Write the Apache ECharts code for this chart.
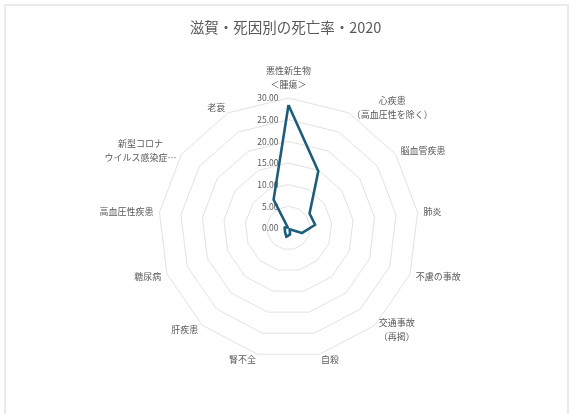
<!DOCTYPE html>
<html>
<head>
<meta charset="utf-8">
<script src="https://cdn.jsdelivr.net/npm/echarts@6/dist/echarts.min.js"></script>
<style>
html,body{margin:0;padding:0;background:#fff;}
#chart{width:571px;height:414px;}
</style>
</head>
<body>
<div id="chart"></div>
<script>
// Categories in clockwise order starting from the top
var categories = [
  '悪性新生物\n＜腫瘍＞',
  '心疾患\n（高血圧性を除く）',
  '脳血管疾患',
  '肺炎',
  '不慮の事故',
  '交通事故\n（再掲）',
  '自殺',
  '腎不全',
  '肝疾患',
  '糖尿病',
  '高血圧性疾患',
  '新型コロナ\nウイルス感染症…',
  '老衰'
];
var values = [28.4, 14.8, 5.9, 6.2, 3.3, 0.4, 1.5, 2.1, 1.2, 0.9, 0.9, 0.2, 7.4];
var axisMax = 30;
var axisSplit = 6;
var titleText = '滋賀・死因別の死亡率・2020';

// ECharts radar runs counter-clockwise; reorder so the picture runs clockwise
function clockwise(arr) { return [arr[0]].concat(arr.slice(1).reverse()); }
var cwCats = clockwise(categories);
var cwVals = clockwise(values);

var FONT = '"Noto Sans CJK JP", "Noto Sans", sans-serif';
var indicators = cwCats.map(function (c, i) {
  var ind = { name: c, max: axisMax, min: 0 };
  if (i === 0) {
    ind.axisLabel = { show: true };
  }
  return ind;
});

var chart = echarts.init(document.getElementById('chart'), null, { renderer: 'canvas' });
chart.setOption({
  animation: false,
  backgroundColor: '#ffffff',
  graphic: [{
    type: 'rect',
    shape: { x: 5, y: 5, width: 563, height: 430 },
    style: { fill: 'none', stroke: '#ebebeb', lineWidth: 2 },
    silent: true
  }],
  title: {
    text: titleText,
    left: 'center',
    top: 17,
    padding: 0,
    textStyle: { fontFamily: FONT, fontSize: 14.5, fontWeight: 'normal', color: '#595959', lineHeight: 20 }
  },
  radar: {
    center: [288.5, 228],
    radius: 130,
    startAngle: 90,
    shape: 'polygon',
    splitNumber: axisSplit,
    nameGap: 6,
    indicator: indicators,
    axisName: {
      color: '#595959',
      fontFamily: FONT,
      fontSize: 9,
      lineHeight: 14,
      formatter: function (name) {
        return name.split('\n').map(function (l) { return '{c|' + l + '}'; }).join('\n');
      },
      rich: { c: { align: 'center', color: '#595959', fontFamily: FONT, fontSize: 9, lineHeight: 14 } }
    },
    axisLine: { show: false },
    axisTick: { show: false },
    axisLabel: {
      show: false,
      color: '#595959',
      fontFamily: FONT,
      fontSize: 8.5,
      margin: 10,
      formatter: function (v) { return Number(v).toFixed(2); }
    },
    splitLine: { lineStyle: { color: '#e2e2e2', width: 1 } },
    splitArea: { show: false }
  },
  series: [{
    type: 'radar',
    symbol: 'none',
    lineStyle: { color: '#1d5d7a', width: 2.6 },
    itemStyle: { color: '#1d5d7a' },
    data: [{ value: cwVals, name: '死亡率' }]
  }]
});
</script>
</body>
</html>
